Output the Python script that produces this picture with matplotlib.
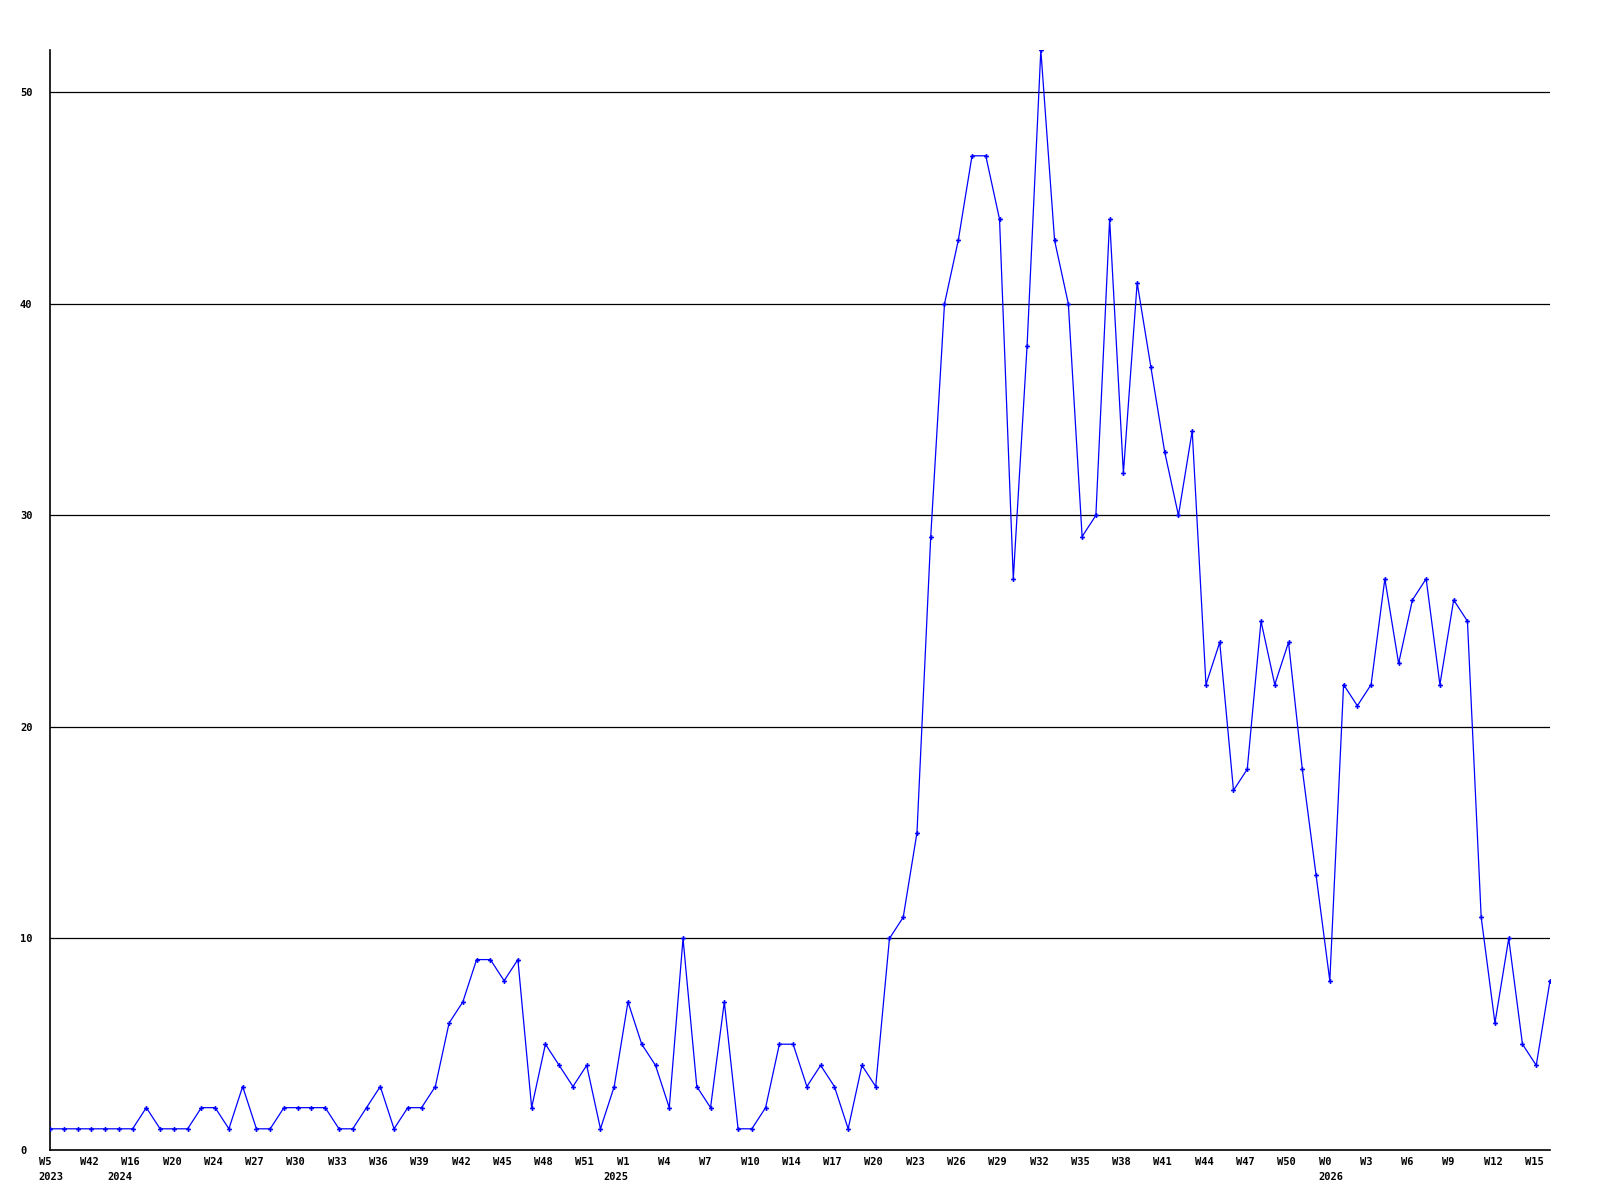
import numpy as np
import matplotlib
matplotlib.use('Agg')
import matplotlib.pyplot as plt
from matplotlib.transforms import ScaledTranslation

# Haftalık değerler
values = [1, 1, 1, 1, 1, 1, 1, 2, 1, 1,
          1, 2, 2, 1, 3, 1, 1, 2, 2, 2,
          2, 1, 1, 2, 3, 1, 2, 2, 3, 6,
          7, 9, 9, 8, 9, 2, 5, 4, 3, 4,
          1, 3, 7, 5, 4, 2, 10, 3, 2, 7,
          1, 1, 2, 5, 5, 3, 4, 3, 1, 4,
          3, 10, 11, 15, 29, 40, 43, 47, 47, 44,
          27, 38, 52, 43, 40, 29, 30, 44, 32, 41,
          37, 33, 30, 34, 22, 24, 17, 18, 25, 22,
          24, 18, 13, 8, 22, 21, 22, 27, 23, 26,
          27, 22, 26, 25, 11, 6, 10, 5, 4, 8]

week_labels = ['W5', 'W42', 'W16', 'W20', 'W24', 'W27', 'W30', 'W33', 'W36',
               'W39', 'W42', 'W45', 'W48', 'W51', 'W1', 'W4', 'W7', 'W10',
               'W14', 'W17', 'W20', 'W23', 'W26', 'W29', 'W32', 'W35', 'W38',
               'W41', 'W44', 'W47', 'W50', 'W0', 'W3', 'W6', 'W9', 'W12', 'W15']
years = ['2023', '2024', '2025', '2026']
year_weeks = [0, 5, 41, 93]   # yılın başladığı hafta sırası
y_ticks = [0, 10, 20, 30, 40, 50]

x = np.arange(len(values))
tick_pos = x[::3]

font = dict(family='DejaVu Sans Mono', weight='bold', size=7.5)

fig = plt.figure(figsize=(16, 12), dpi=100)
ax = fig.add_axes([0.03125, 0.0417, 0.9375, 0.9166])

for v in y_ticks[1:]:
    ax.axhline(v, color='black', lw=0.9, zorder=1)

ax.plot(x, values, color='#0000ff', lw=0.9, marker='P', markersize=3.5,
        markeredgewidth=0, zorder=3)

ax.set_xlim(0, len(values) - 1)
ax.set_ylim(0, 52)
ax.margins(0)

ax.set_yticks(y_ticks)
ax.set_yticklabels([str(v) for v in y_ticks], fontdict=font)
ax.set_xticks(tick_pos)
ax.set_xticklabels(week_labels, fontdict=font)
ax.tick_params(axis='y', length=0, pad=21.6)
ax.tick_params(axis='x', length=0, pad=5)

for lab in ax.get_yticklabels():
    lab.set_ha('left')

# etiketler sola hizalı, tikin biraz solundan başlıyor
shift = ScaledTranslation(-11.3 / 100, 0, fig.dpi_scale_trans)
for lab in ax.get_xticklabels():
    lab.set_ha('left')
    lab.set_transform(lab.get_transform() + shift)

# Yıl etiketleri ikinci satır
for yr, wi in zip(years, year_weeks):
    ax.annotate(yr, xy=(x[wi], 0), xycoords=('data', 'axes fraction'),
                xytext=(-11.3, -27), textcoords='offset pixels',
                ha='left', va='center', **font)

for s in ['top', 'right']:
    ax.spines[s].set_visible(False)
ax.spines['left'].set_linewidth(1.2)
ax.spines['bottom'].set_linewidth(1.2)

plt.savefig('out.png', dpi=100)
